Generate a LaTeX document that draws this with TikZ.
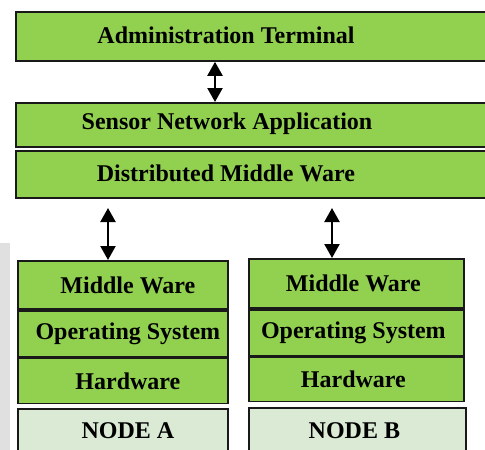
\documentclass[tikz,border=0pt]{standalone}
\usepackage{fontspec}
\setmainfont{Liberation Serif}
\usetikzlibrary{arrows.meta}
\definecolor{layergreen}{HTML}{92D050}
\definecolor{hostgreen}{HTML}{DAEAD4}
\tikzset{
    layer/.style={draw=black!90, line width=1.8pt, fill=layergreen, inner sep=0pt, anchor=north west,
        font=\bfseries\fontsize{24}{28}\selectfont},
    hostbox/.style={layer, fill=hostgreen},
    caption/.style={font=\bfseries\fontsize{24}{28}\selectfont, inner sep=0pt},
    biarrow/.style={{Triangle[width=15pt,length=14pt]}-{Triangle[width=15pt,length=14pt]}, line width=2.2pt}
}
\begin{document}
\begin{tikzpicture}[x=1pt, y=-1pt]
    \useasboundingbox (0,0) rectangle (485,450);
    \clip (0,0) rectangle (485,450);
    \fill[black!12] (0,243) rectangle (10,450);

    % upper layers
    \node[layer, minimum width=485pt, minimum height=49pt] (admin) at (15,11) {};
    \node[caption] (admintext) at (226,35) {Administration Terminal};
    \node[layer, minimum width=485pt, minimum height=44pt] (sensor) at (15,102) {};
    \node[caption] (sensortext) at (227,124) {Sensor Network Application};
    \node[layer, minimum width=485pt, minimum height=47pt] (dist) at (15,150) {};
    \node[caption] (disttext) at (226,173) {Distributed Middle Ware};

    % node A
    \node[layer, minimum width=210pt, minimum height=48pt] (mwA) at (17,260) {\hspace*{10pt}Middle Ware};
    \node[layer, minimum width=210pt, minimum height=46pt] (osA) at (mwA.south west) {\hspace*{10pt}Operating System};
    \node[layer, minimum width=210pt, minimum height=45pt] (hwA) at (osA.south west) {\hspace*{10pt}Hardware};
    \node[hostbox, minimum width=210pt, minimum height=44pt] (nodeA) at (17,408) {\hspace*{10pt}NODE A};

    % node B
    \node[layer, minimum width=215pt, minimum height=49pt] (mwB) at (248,258) {Middle Ware\hspace*{6pt}};
    \node[layer, minimum width=215pt, minimum height=46pt] (osB) at (mwB.south west) {Operating System\hspace*{6pt}};
    \node[layer, minimum width=215pt, minimum height=44pt] (hwB) at (osB.south west) {Hardware\hspace*{6pt}};
    \node[hostbox, minimum width=217pt, minimum height=45pt] (nodeB) at (248,407) {NODE B\hspace*{6pt}};

    \coordinate (ta) at (215,0);
    \coordinate (la) at (108,208);
    \coordinate (rb) at (332,208);
    \draw[biarrow] (admin.south -| ta) -- (sensor.north -| ta);
    \draw[biarrow] (la) -- (mwA.north -| la);
    \draw[biarrow] (rb) -- (mwB.north -| rb);
\end{tikzpicture}
\end{document}
